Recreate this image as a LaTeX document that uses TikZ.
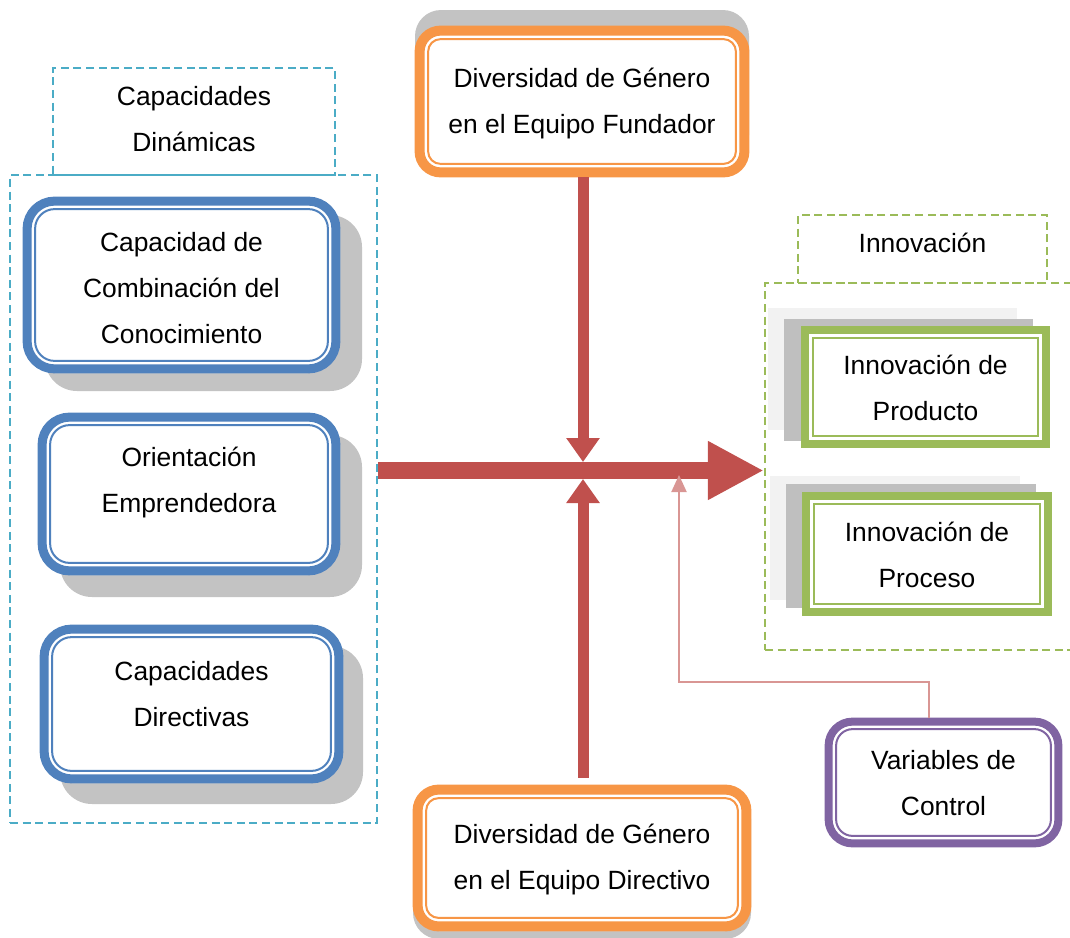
\documentclass[tikz,border=0pt]{standalone}
\usepackage{fontspec}
\setmainfont{Liberation Sans}
\usetikzlibrary{arrows.meta,shadows}

\definecolor{orangeB}{HTML}{F79646}
\definecolor{blueB}{HTML}{4F81BD}
\definecolor{purpleB}{HTML}{8064A2}
\definecolor{greenB}{HTML}{9BBB59}
\definecolor{dashBlue}{HTML}{4BACC6}
\definecolor{arrowRed}{HTML}{C0504D}
\definecolor{ctrlPink}{HTML}{D99694}
\definecolor{shadeGray}{HTML}{C3C3C3}
\definecolor{shadeLight}{HTML}{F2F2F2}
\definecolor{shadeMid}{HTML}{BFBFBF}

% double frame: thick band plus a thin inner line (sizes in px units)
\newcommand\roundframe[4]{% node, colour, band width, outer radius
  \draw[#2, line width=#3*0.5pt, rounded corners={(#4-#3/2)*0.5pt}]
    ([shift={(#3/2,#3/2)}]#1.north west) rectangle ([shift={(-#3/2,-#3/2)}]#1.south east);
  \draw[#2, line width=1pt, rounded corners={(#4-#3-3.5)*0.5pt}]
    ([shift={(#3+3.5,#3+3.5)}]#1.north west) rectangle ([shift={(-#3-3.5,-#3-3.5)}]#1.south east);
}
\newcommand\squareframe[3]{% node, colour, band width
  \draw[#2, line width=#3*0.5pt]
    ([shift={(#3/2,#3/2)}]#1.north west) rectangle ([shift={(-#3/2,-#3/2)}]#1.south east);
  \draw[#2, line width=1pt]
    ([shift={(#3+4,#3+4)}]#1.north west) rectangle ([shift={(-#3-4,-#3-4)}]#1.south east);
}

\begin{document}
\begin{tikzpicture}[x=0.5pt,y=-0.5pt,
  txt/.style={font=\fontsize{13.2pt}{23pt}\selectfont, align=center, text=black, inner sep=0pt},
  boxbase/.style={rectangle, fill=white, inner sep=0pt, txt},
  roundbox/.style={boxbase, rounded corners=#1},
  greenbox/.style={boxbase},
  dashframe/.style={rectangle, draw=#1, line width=1.2pt, dash pattern=on 4pt off 2.3pt, inner sep=0pt},
  bigarrow/.style={draw=arrowRed, line width=8.5pt, -{Triangle[length=28pt,width=27.5pt]}},
  vertarrow/.style={draw=arrowRed, line width=5.5pt, -{Triangle[length=12pt,width=16pt]}},
  ctrlarrow/.style={draw=ctrlPink, line width=1pt, -{Triangle[length=8.5pt,width=7.5pt]}}
]
\useasboundingbox (0,0) rectangle (1070,937);

% dashed groups
\node[dashframe=dashBlue, minimum width=141pt, minimum height=53.5pt, txt] (capLabel) at (194,121.5) {};
\node[txt] (capLabelText) at (194,119.5) {Capacidades\\Dinámicas};
\node[dashframe=dashBlue, minimum width=183.5pt, minimum height=324pt] (capCont) at (193.5,499) {};

\node[dashframe=greenB, minimum width=124.5pt, minimum height=34pt] (innoLabel) at (922.5,249) {};
\node[txt] (innoLabelText) at (922.5,243) {Innovación};
\node[dashframe=greenB, minimum width=155pt, minimum height=183.5pt] (innoCont) at (920,466.5) {};

% gender diversity boxes
\node[roundbox=13pt, minimum width=167pt, minimum height=75.5pt,
      drop shadow={shadow xshift=0pt, shadow yshift=8pt, fill=shadeGray, opacity=1}]
  (fTop) at (582,101.5) {};
\roundframe{fTop}{orangeB}{10}{26}
\node[txt] (fTopText) at ([yshift=-1pt]fTop.center) {Diversidad de Género\\en el Equipo Fundador};

\node[roundbox=13pt, minimum width=169pt, minimum height=73pt,
      drop shadow={shadow xshift=0pt, shadow yshift=-4pt, fill=shadeGray, opacity=1}]
  (fBot) at (582,858) {};
\roundframe{fBot}{orangeB}{10}{26}
\node[txt] (fBotText) at ([yshift=-1pt]fBot.center) {Diversidad de Género\\en el Equipo Directivo};

% dynamic capabilities
\node[roundbox=16pt, minimum width=158.5pt, minimum height=88pt,
      drop shadow={shadow xshift=11pt, shadow yshift=-9pt, fill=shadeGray, opacity=1}]
  (b1) at (181.5,285) {};
\roundframe{b1}{blueB}{9}{32}
\node[txt] (b1text) at ([yshift=-1.5pt]b1.center) {Capacidad de\\Combinación del\\Conocimiento};

\node[roundbox=16pt, minimum width=151pt, minimum height=81pt,
      drop shadow={shadow xshift=11pt, shadow yshift=-11pt, fill=shadeGray, opacity=1}]
  (b2) at (189,494) {};
\roundframe{b2}{blueB}{9}{32}
\node[txt] (b2text) at ([yshift=5.5pt]b2.center) {Orientación\\Emprendedora};

\node[roundbox=16pt, minimum width=151.5pt, minimum height=79pt,
      drop shadow={shadow xshift=10pt, shadow yshift=-10.5pt, fill=shadeGray, opacity=1}]
  (b3) at (191.5,704) {};
\roundframe{b3}{blueB}{9}{32}
\node[txt] (b3text) at ([yshift=5pt]b3.center) {Capacidades\\Directivas};

% innovation boxes
\node[greenbox, minimum width=124.5pt, minimum height=61pt,
      general shadow={shadow xshift=-16.5pt, shadow yshift=9pt, fill=shadeLight},
      general shadow={shadow xshift=-8.5pt, shadow yshift=3.5pt, fill=shadeMid}]
  (gP) at (925.5,387) {};
\squareframe{gP}{greenB}{8}
\node[txt] (gPtext) at ([yshift=-0.5pt]gP.center) {Innovación de\\Producto};

\node[greenbox, minimum width=125pt, minimum height=62pt,
      general shadow={shadow xshift=-16pt, shadow yshift=8pt, fill=shadeLight},
      general shadow={shadow xshift=-8pt, shadow yshift=4pt, fill=shadeMid}]
  (gQ) at (927,554) {};
\squareframe{gQ}{greenB}{8}
\node[txt] (gQtext) at ([yshift=-0.5pt]gQ.center) {Innovación de\\Proceso};

% control variables
\node[roundbox=14pt, minimum width=118.5pt, minimum height=64.5pt]
  (pv) at (943.5,782.5) {};
\roundframe{pv}{purpleB}{8}{28}
\node[txt] (pvtext) at ([yshift=-0.5pt]pv.center) {Variables de\\Control};

% connectors
\coordinate (hub) at (583,470.5);
\coordinate (hubTop) at (583,462);
\coordinate (hubBot) at (583,479);
\coordinate (ctrlIn) at (679,475);

\draw[bigarrow] (capCont.east |- hub) -- (innoCont.west |- hub);
\draw[vertarrow] (hubTop |- fTop.south) -- (hubTop);
\draw[vertarrow] ([yshift=3.5pt]hubBot |- fBot.north) -- (hubBot);
\draw[ctrlarrow] ([xshift=-7.25pt]pv.north) -- ++(0,-36) -| (ctrlIn);
\end{tikzpicture}
\end{document}
